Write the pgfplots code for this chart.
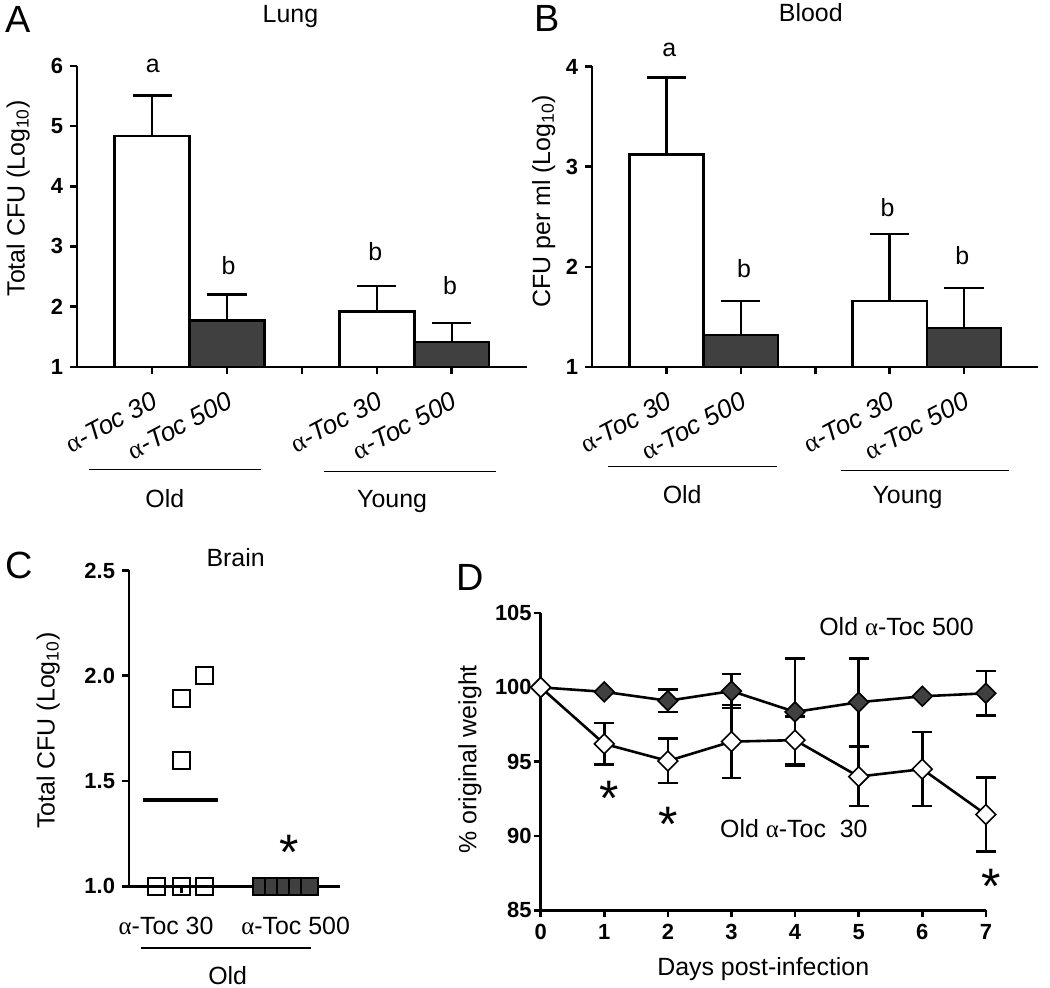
\documentclass[border=0pt]{standalone}
\usepackage{fontspec}
\setmainfont{Liberation Sans}
\newfontfamily\greekfont{Liberation Serif}
\usepackage{pgfplots}
\pgfplotsset{compat=1.18}
\definecolor{darkfill}{HTML}{404040}
\newcommand{\al}{{\greekfont α}}
\newcommand{\fs}[1]{\fontsize{#1}{#1}\selectfont}

\pgfplotsset{
  panel/.style={
    scale only axis, anchor=south west,
    axis lines=left, axis line style={-, line width=1.3pt},
    enlargelimits=false, tick align=outside, major tick length=3.5pt,
    tick style={line width=1.3pt, black},
    every tick label/.append style={font=\fs{11}\bfseries},
    /pgf/number format/assume math mode=true,
    label style={font=\fs{12.5}},
  },
  barpanel/.style={
    panel, xmin=0, xmax=6, xtick={1,2,3,4,5},
    xticklabels={\al\textit{-Toc 30}, \al\textit{-Toc 500}, , \al\textit{-Toc 30}, \al\textit{-Toc 500}},
    xticklabel style={font=\fs{13}, xshift=4.5pt, yshift=-11pt, rotate=28, anchor=east},
  },
  errs/.style={
    error bars/y dir=#1, error bars/y explicit,
    error bars/error bar style={line width=1.25pt},
  },
  whitebar/.style={ybar, bar width=1, fill=white, draw=black, line width=1.25pt,
    errs=plus, error bars/error mark options={rotate=90, mark size=9.8pt, line width=1.25pt}},
  darkbar/.style={whitebar, fill=darkfill},
  diam/.style={line width=1.3pt, black, mark=square*, mark size=3.5pt,
    mark options={rotate=45, fill=#1, line width=0.8pt},
    errs=both, error bars/error mark options={rotate=90, mark size=5pt, line width=1.2pt}},
}

\begin{document}
\begin{tikzpicture}
\begin{scope}[x=0.5pt, y=-0.5pt]
\useasboundingbox (0,0) rectangle (1050,990);
\end{scope}

% A: lung
\begin{axis}[barpanel, at={(37pt,-184pt)}, width=225.5pt, height=151pt,
  ymin=1, ymax=6, ytick={1,...,6},
  ylabel={Total CFU (Log\textsubscript{10})},
  ylabel style={at={(axis description cs:-0.131,0.56)}, anchor=center},
]
\addplot[whitebar] coordinates {(1,4.83) +- (0,0.68) (4,1.92) +- (0,0.42)};
\addplot[darkbar] coordinates {(2,1.77) +- (0,0.43) (5,1.41) +- (0,0.32)};
\end{axis}

% B: blood
\begin{axis}[barpanel, at={(295.35pt,-184.15pt)}, width=223.8pt, height=150.8pt,
  ymin=1, ymax=4, ytick={1,...,4},
  ylabel={CFU per ml (Log\textsubscript{10})},
  ylabel style={at={(axis description cs:-0.109,0.552)}, anchor=center},
]
\addplot[whitebar] coordinates {(1,3.12) +- (0,0.77) (4,1.66) +- (0,0.67)};
\addplot[darkbar] coordinates {(2,1.32) +- (0,0.34) (5,1.39) +- (0,0.40)};
\end{axis}

% C: brain
\begin{axis}[panel, at={(63pt,-444.65pt)}, width=105.85pt, height=158.5pt,
  xmin=0.5, xmax=2.52, ymin=1, ymax=2.5, ytick={1,1.5,2,2.5},
  yticklabel style={/pgf/number format/.cd, fixed, fixed zerofill, precision=1},
  xtick={1,2}, xticklabels={,},
  extra x ticks={0.855,2.095},
  extra x tick labels={\al-Toc 30, \al-Toc 500},
  extra x tick style={tick style={draw=none}},
  xticklabel style={font=\fs{12.5}, anchor=base, yshift=-20.85pt},
  ylabel={Total CFU (Log\textsubscript{10})},
  ylabel style={at={(axis description cs:-0.383,0.493)}, anchor=center},
  clip=false,
]
\addplot[only marks, mark=square, mark size=4.25pt, mark options={line width=1pt, black}]
  coordinates {(0.767,1) (1,1) (1.225,1) (1,1.6) (1,1.89) (1.225,2.0)};
\addplot[only marks, mark=square*, mark size=4.25pt, mark options={fill=darkfill, draw=black, line width=0.8pt}]
  coordinates {(1.77,1) (1.885,1) (2,1) (2.115,1) (2.23,1)};
\addplot[no marks, line width=2pt, black] coordinates {(0.635,1.41) (1.35,1.41)};
\end{axis}

% D: weight
\begin{axis}[panel, at={(269.5pt,-456.65pt)}, width=223.35pt, height=149.15pt,
  xmin=0, xmax=7, ymin=85, ymax=105, xtick={0,...,7}, ytick={85,90,...,105},
  yticklabel style={xshift=2.5pt},
  xlabel={Days post-infection},
  xlabel style={at={(axis description cs:0.5,-0.22)}, anchor=base},
  ylabel={\% original weight},
  ylabel style={at={(axis description cs:-0.159,0.508)}, anchor=center},
  clip=false,
]
\addplot[diam=darkfill]
  coordinates {(0,100) +- (0,0) (1,99.7) +- (0,0) (2,99.1) +- (0,0.75)
    (3,99.75) +- (0,1.15) (4,98.35) +- (0,3.6) (5,99.0) +- (0,2.95)
    (6,99.4) +- (0,0) (7,99.6) +- (0,1.5)};
\addplot[diam=white]
  coordinates {(0,100) +- (0,0) (1,96.2) +- (0,1.4) (2,95.05) +- (0,1.5)
    (3,96.35) +- (0,2.45) (4,96.45) +- (0,1.6) (5,94.0) +- (0,2.0)
    (6,94.5) +- (0,2.5) (7,91.45) +- (0,2.5)};
\end{axis}

% annotations, in pixel units of the reference
\begin{scope}[x=0.5pt, y=-0.5pt]
\tikzset{lbl/.style={font=\fs{19}, anchor=base west, inner sep=0},
  ttl/.style={font=\fs{12.5}, anchor=base, inner sep=0},
  star/.style={font=\fs{25}, anchor=north, inner sep=0}}
\node[lbl] at (2,33) {A};
\node[lbl] at (532,32) {B};
\node[lbl] at (2,580) {C};
\node[lbl] at (454,592) {D};
\node[ttl] at (288,23) {Lung};
\node[ttl] at (810,22) {Blood};
\node[ttl] at (233,568) {Brain};
% significance letters
\node[ttl] at (150,73) {a};
\node[ttl] at (226,275) {b};
\node[ttl] at (373,261) {b};
\node[ttl] at (448,295) {b};
\node[ttl] at (668,57) {a};
\node[ttl] at (743,278) {b};
\node[ttl] at (887,217) {b};
\node[ttl] at (962,265) {b};
% group lines
\draw[line width=0.8pt] (86,471) -- (258,471);
\draw[line width=0.8pt] (322,473) -- (494,473);
\draw[line width=0.8pt] (607,468) -- (776,468);
\draw[line width=0.8pt] (840,472) -- (1009,472);
\draw[line width=0.8pt] (138,951) -- (309,951);
\node[ttl] at (162,509) {Old};
\node[ttl] at (390,509) {Young};
\node[ttl] at (681,505) {Old};
\node[ttl] at (907,505) {Young};
\node[ttl] at (225,988) {Old};
% D series names
\node[ttl] at (896,638) {Old \al-Toc 500};
\node[ttl] at (793,840) {Old \al-Toc\ \ 30};
% asterisks
\node[star] at (287,838) {*};
\node[star] at (608,783) {*};
\node[star] at (667,809) {*};
\node[star] at (991,872) {*};
\end{scope}
\end{tikzpicture}
\end{document}
